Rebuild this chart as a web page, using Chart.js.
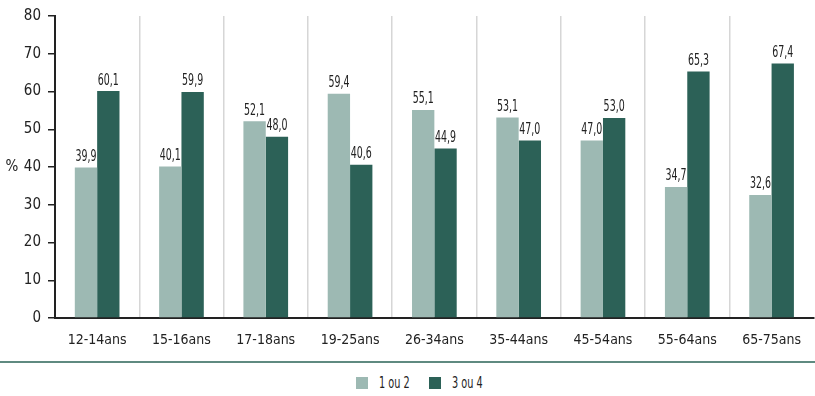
<!DOCTYPE html>
<html>
<head>
<meta charset="utf-8">
<script src="https://cdn.jsdelivr.net/npm/chart.js@4"></script>
<style>
  body { margin: 0; background: #fff; }
  #wrap { position: relative; width: 815px; height: 360px; }
  #sep { position: absolute; left: 0; top: 361px; width: 815px; height: 2px; background: #5f8a80; }
  #legend { position: absolute; left: 12px; top: 375px; width: 815px; text-align: center;
    font-family: "DejaVu Sans Condensed", sans-serif; font-size: 15px; color: #222; line-height: 16px; white-space: nowrap; }
  #legend span.item { display: inline-block; }
  #legend span.item + span.item { margin-left: 19px; }
  #legend span.box { display: inline-block; width: 12px; height: 12px; vertical-align: -1px; margin-right: 11px; }
  #legend span.txt { display: inline-block; transform: scaleX(0.72); transform-origin: left center; margin-right: -12px; }
</style>
</head>
<body>
<div id="wrap"><canvas id="myChart" width="815" height="360"></canvas></div>
<div id="sep"></div>
<div id="legend"></div>
<script>
const labels = ['12-14ans', '15-16ans', '17-18ans', '19-25ans', '26-34ans', '35-44ans', '45-54ans', '55-64ans', '65-75ans'];
const low = [39.9, 40.1, 52.1, 59.4, 55.1, 53.1, 47.0, 34.7, 32.6];
const high = [60.1, 59.9, 48.0, 40.6, 44.9, 47.0, 53.0, 65.3, 67.4];
const seriesNames = ['1 ou 2', '3 ou 4'];
const colors = ['#9db9b3', '#2c6157'];

const font = '"DejaVu Sans Condensed", sans-serif';

// value labels on top of each bar + the "%" on the left
const barValues = {
  id: 'barValues',
  afterDatasetsDraw(chart) {
    const ctx = chart.ctx;
    ctx.save();
    ctx.font = '15px ' + font;
    ctx.fillStyle = '#222';
    ctx.textAlign = 'center';
    ctx.textBaseline = 'bottom';
    chart.data.datasets.forEach((ds, i) => {
      chart.getDatasetMeta(i).data.forEach((bar, j) => {
        ctx.save();
        ctx.translate(bar.x, bar.y - 3);
        ctx.scale(0.7, 1);   // narrow figures like the original
        ctx.fillText(ds.data[j].toFixed(1).replace('.', ','), 0, 0);
        ctx.restore();
      });
    });
    ctx.font = '15px ' + font;
    ctx.textBaseline = 'middle';
    ctx.fillText('%', 12, (chart.chartArea.top + chart.chartArea.bottom) / 2);
    ctx.restore();
  }
};

const data = {
  labels: labels,
  datasets: [
    { label: seriesNames[0], data: low, backgroundColor: colors[0] },
    { label: seriesNames[1], data: high, backgroundColor: colors[1] }
  ]
};

const config = {
  type: 'bar',
  data,
  options: {
    responsive: false,
    animation: false,
    layout: { padding: { top: 16, right: -6, left: 0, bottom: 0 } },
    datasets: { bar: { categoryPercentage: 0.53, barPercentage: 1 } },
    plugins: { legend: { display: false }, tooltip: { enabled: false } },
    scales: {
      x: {
        grid: {
          offset: true,
          drawTicks: false,
          color: (c) => (c.type !== 'tick' || c.index === 0) ? 'rgba(0,0,0,0)' : '#d6d6d6',
          lineWidth: 1.5
        },
        border: { color: '#222', width: 2 },
        ticks: { font: { family: font, size: 14 }, color: '#222', padding: 14 },
        afterFit: (s) => { s.height = 42; }
      },
      y: {
        min: 0, max: 80,
        ticks: { stepSize: 10, font: { family: font, size: 15 }, color: '#222', padding: 7 },
        grid: { drawOnChartArea: false, drawTicks: true, tickLength: 7, color: '#222', lineWidth: 1.5 },
        border: { color: '#222', width: 2 },
        afterFit: (s) => { s.width = 55; }
      }
    }
  },
  plugins: [barValues]
};

var myChart = new Chart(document.getElementById('myChart'), config);

// legend underneath the separator line
document.getElementById('legend').innerHTML = seriesNames.map((n, i) =>
  '<span class="item"><span class="box" style="background:' + colors[i] + '"></span><span class="txt">' + n + '</span></span>'
).join('');
</script>
</body>
</html>
